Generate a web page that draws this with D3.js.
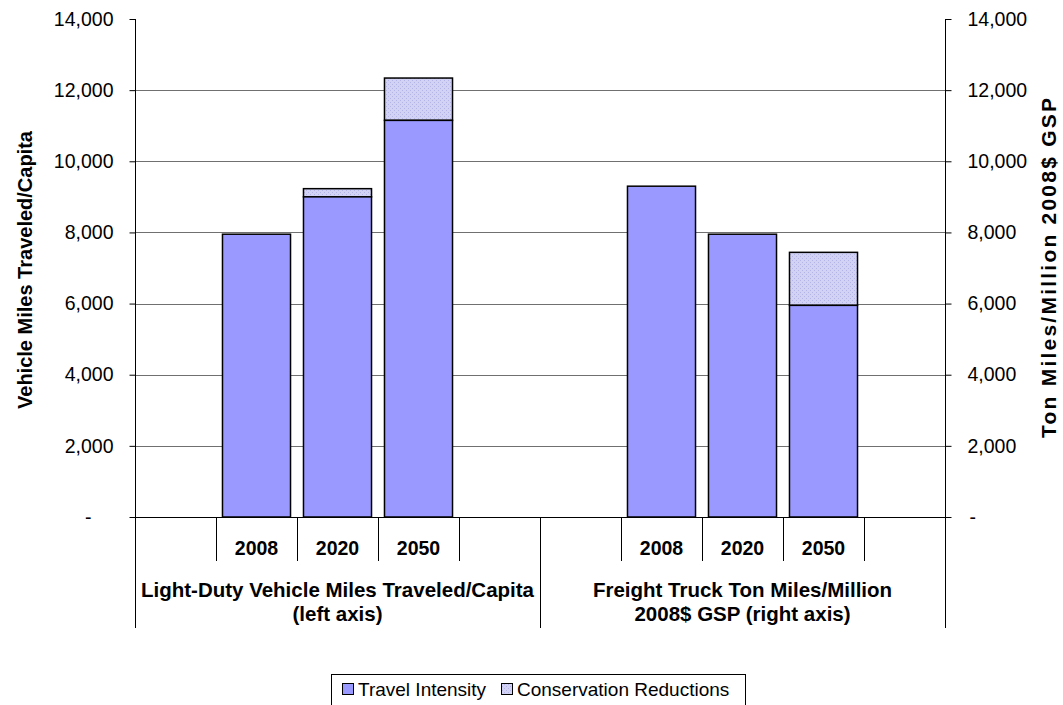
<!DOCTYPE html>
<html>
<head>
<meta charset="utf-8">
<script src="https://cdn.jsdelivr.net/npm/d3@7"></script>
<style>
  html, body { margin: 0; padding: 0; background: #fff; }
  svg { display: block; font-family: "Liberation Sans", Arial, sans-serif; }
</style>
</head>
<body>
<svg id="chart" width="1063" height="705"></svg>
<script>
// Category slots along the x axis (blank slots pad each group)
const slots = ["a0", "L2008", "L2020", "L2050", "a4", "a5", "R2008", "R2020", "R2050", "a9"];
const slotYears = ["", "2008", "2020", "2050", "", "", "2008", "2020", "2050", ""];
const groupLabels = [
  ["Light-Duty Vehicle Miles Traveled/Capita", "(left axis)"],
  ["Freight Truck Ton Miles/Million", "2008$ GSP (right axis)"]
];
// Bar values per slot (null = empty slot)
const travelIntensity = [null, 7950, 9000, 11150, null, null, 9300, 7950, 5950, null];
const conservationReductions = [null, 0, 230, 1190, null, null, 0, 0, 1490, null];
const seriesNames = ["Travel Intensity", "Conservation Reductions"];
const yTicks = [0, 2000, 4000, 6000, 8000, 10000, 12000, 14000];
const leftTitle = "Vehicle Miles Traveled/Capita";
const rightTitle = "Ton Miles/Million 2008$ GSP";

const svg = d3.select("#chart");
const L = 135, R = 945, T = 19, B = 517;

const x = d3.scaleBand().domain(slots).range([L, R]).paddingInner(0.16).paddingOuter(0.08);
const yL = d3.scaleLinear().domain([0, 14000]).range([B, T]);
const yR = d3.scaleLinear().domain([0, 14000]).range([B, T]);
const fmt = d3.format(",");

// Dotted fill for the conservation segment
const defs = svg.append("defs");
const pat = defs.append("pattern").attr("id", "dots").attr("patternUnits", "userSpaceOnUse")
  .attr("width", 4).attr("height", 4);
pat.append("rect").attr("width", 4).attr("height", 4).attr("fill", "#d2d2f4");
pat.append("rect").attr("x", 0).attr("y", 0).attr("width", 1).attr("height", 1).attr("fill", "#b4b4e6");
pat.append("rect").attr("x", 2).attr("y", 2).attr("width", 1).attr("height", 1).attr("fill", "#b4b4e6");

// Horizontal gridlines
svg.append("g").selectAll("line").data(yTicks.filter(d => d > 0 && d < 14000)).join("line")
  .attr("x1", L).attr("x2", R)
  .attr("y1", d => Math.round(yL(d)) + 0.5).attr("y2", d => Math.round(yL(d)) + 0.5)
  .attr("stroke", "#707070").attr("stroke-width", 1);

// Stacked bars: travel intensity with conservation reductions on top
const barData = slots.map((s, i) => ({ s, t: travelIntensity[i], c: conservationReductions[i] }))
  .filter(d => d.t !== null);
const gBars = svg.append("g");
barData.forEach(d => {
  const y = d.s.startsWith("L") ? yL : yR;
  if (d.c > 0) {
    gBars.append("rect")
      .attr("x", x(d.s)).attr("width", x.bandwidth())
      .attr("y", y(d.t + d.c)).attr("height", y(d.t) - y(d.t + d.c))
      .attr("fill", "url(#dots)").attr("stroke", "#000").attr("stroke-width", 1.5);
  }
  gBars.append("rect")
    .attr("x", x(d.s)).attr("width", x.bandwidth())
    .attr("y", y(d.t)).attr("height", y(0) - y(d.t))
    .attr("fill", "#9999ff").attr("stroke", "#000").attr("stroke-width", 1.5);
});

const tickFont = 19.5;

// Left axis
const gL = svg.append("g").attr("transform", `translate(${L + 0.5},0)`)
  .call(d3.axisLeft(yL).tickValues(yTicks).tickSize(6).tickPadding(16)
    .tickFormat(d => d === 0 ? "-" : fmt(d)));
gL.select(".domain").remove();
gL.selectAll("text").attr("font-size", tickFont).attr("font-family", "Liberation Sans, Arial, sans-serif").attr("fill", "#000");
gL.selectAll(".tick").filter(d => d === 0).select("text").attr("x", -44);
gL.selectAll(".tick line").attr("stroke", "#000");

// Right axis
const gR = svg.append("g").attr("transform", `translate(${R + 0.5},0)`)
  .call(d3.axisRight(yR).tickValues(yTicks).tickSize(6).tickPadding(16)
    .tickFormat(d => d === 0 ? "-" : fmt(d)));
gR.select(".domain").remove();
gR.selectAll("text").attr("font-size", tickFont).attr("font-family", "Liberation Sans, Arial, sans-serif").attr("fill", "#000");
gR.selectAll(".tick").filter(d => d === 0).select("text").attr("x", 24);
gR.selectAll(".tick line").attr("stroke", "#000");

// Vertical axis lines run down through the category label area
const axisBottom = 628, yearTickBottom = 561;
[L, R].forEach(px => svg.append("line")
  .attr("x1", px + 0.5).attr("x2", px + 0.5).attr("y1", T).attr("y2", axisBottom)
  .attr("stroke", "#000").attr("stroke-width", 1));

// Category baseline
svg.append("line").attr("x1", L).attr("x2", R + 6).attr("y1", B + 0.5).attr("y2", B + 0.5)
  .attr("stroke", "#000").attr("stroke-width", 1);

// Slot separators (year level) and the long group separator in the middle
const step = x.step();
const slotEdges = d3.range(1, slots.length).map(i => L + i * step);
svg.append("g").selectAll("line").data(slotEdges).join("line")
  .attr("x1", d => Math.round(d) + 0.5).attr("x2", d => Math.round(d) + 0.5)
  .attr("y1", B).attr("y2", (d, i) => (i === 4 ? axisBottom : yearTickBottom))
  .attr("stroke", "#000").attr("stroke-width", 1);

// Year labels
svg.append("g").selectAll("text").data(slots.map((s, i) => ({ s, t: slotYears[i] })).filter(d => d.t))
  .join("text")
  .attr("x", d => x(d.s) + x.bandwidth() / 2).attr("y", 555)
  .attr("text-anchor", "middle").attr("font-size", 19.5).attr("font-weight", "bold")
  .text(d => d.t);

// Group labels
const groupCenters = [(L + (L + 5 * step)) / 2, ((L + 5 * step) + R) / 2];
groupLabels.forEach((lines, gi) => {
  lines.forEach((ln, li) => {
    svg.append("text").attr("x", groupCenters[gi]).attr("y", 597 + li * 24)
      .attr("text-anchor", "middle").attr("font-size", 20.5).attr("font-weight", "bold")
      .text(ln);
  });
});

// Axis titles
svg.append("text").attr("transform", `translate(32,270) rotate(-90)`)
  .attr("text-anchor", "middle").attr("font-size", 20).attr("font-weight", "bold").text(leftTitle);
svg.append("text").attr("transform", `translate(1056,268) rotate(-90)`)
  .attr("text-anchor", "middle").attr("font-size", 21).attr("font-weight", "bold")
  .attr("textLength", 340).attr("lengthAdjust", "spacing").text(rightTitle);

// Legend
const lg = svg.append("g");
lg.append("rect").attr("x", 331.5).attr("y", 674.5).attr("width", 414).attr("height", 40)
  .attr("fill", "#fff").attr("stroke", "#000").attr("stroke-width", 1);
const legendItems = [
  { name: seriesNames[0], fill: "#9999ff", x: 342, tx: 358 },
  { name: seriesNames[1], fill: "url(#dots)", x: 501, tx: 517 }
];
legendItems.forEach(it => {
  lg.append("rect").attr("x", it.x + 0.5).attr("y", 683.5).attr("width", 11).attr("height", 11)
    .attr("fill", it.fill).attr("stroke", "#000").attr("stroke-width", 1);
  lg.append("text").attr("x", it.tx).attr("y", 696).attr("font-size", 19).text(it.name);
});
</script>
</body>
</html>
